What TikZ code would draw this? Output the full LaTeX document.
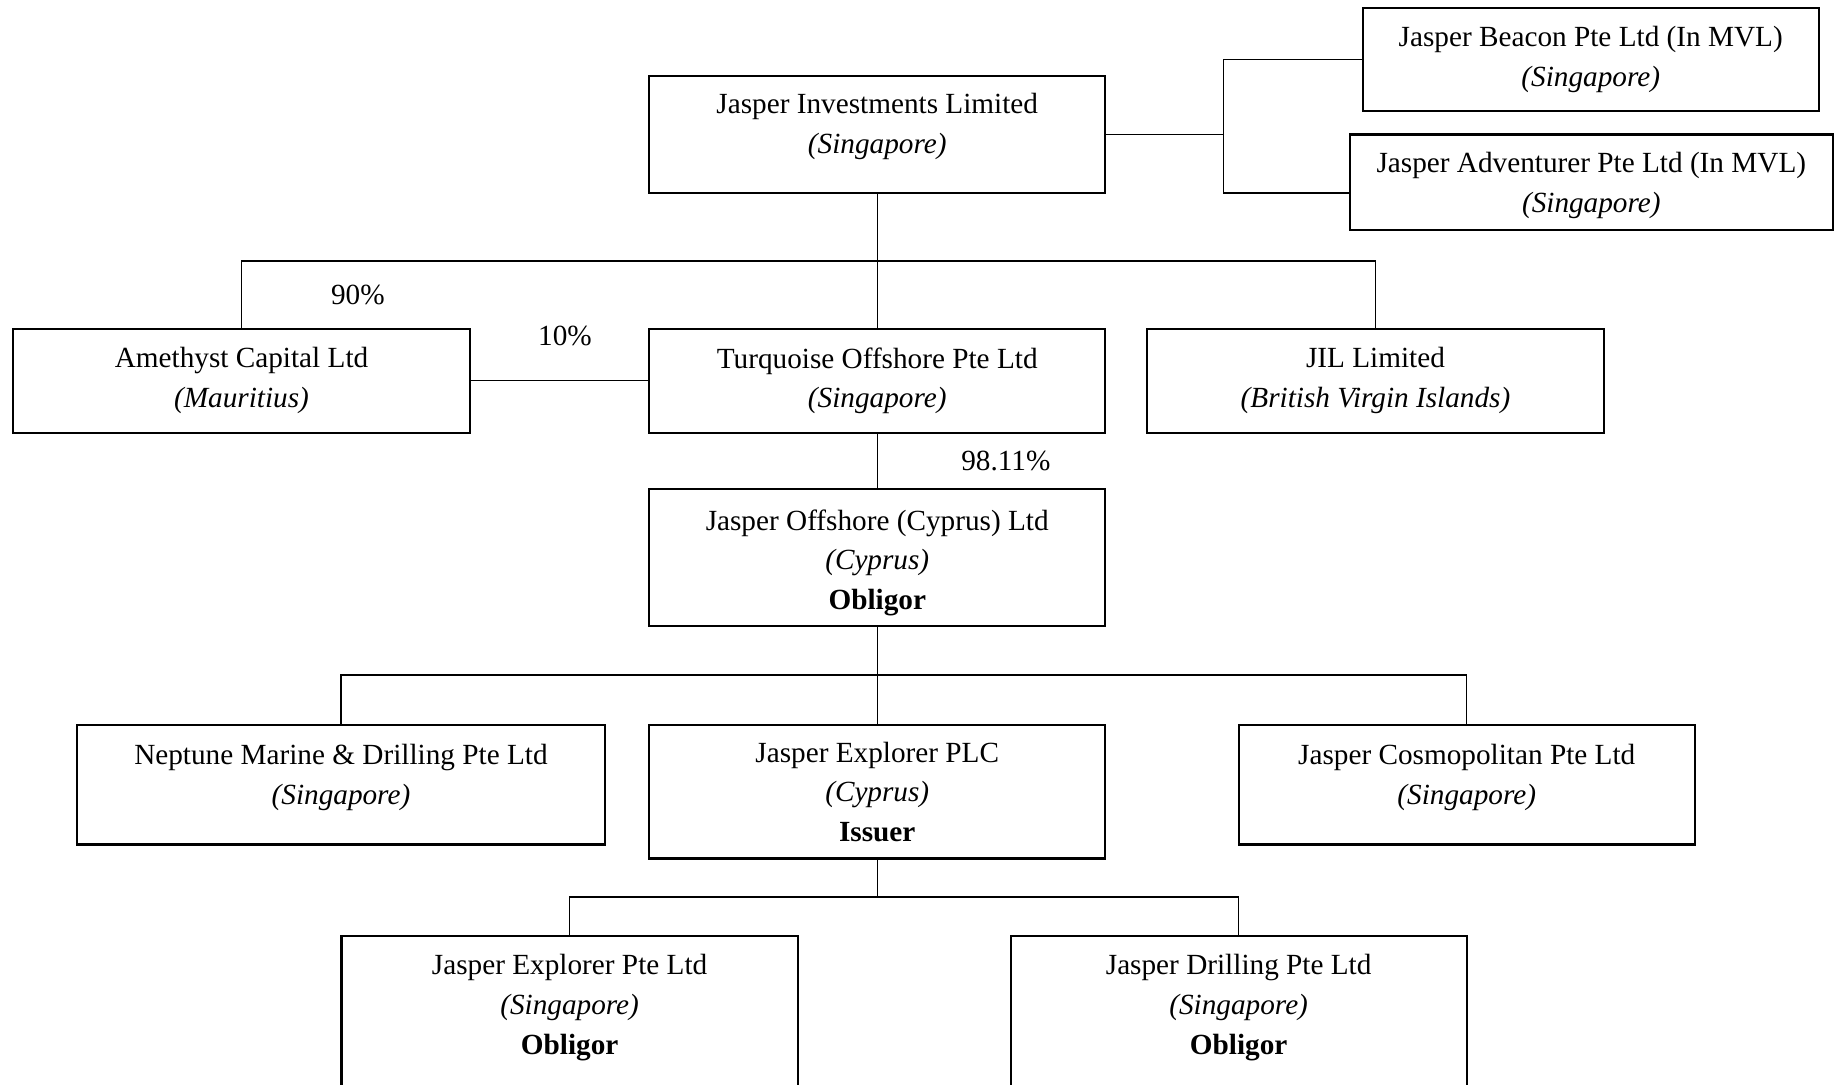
\documentclass[tikz,border=0pt]{standalone}
\usepackage{fontspec}
\setmainfont{Liberation Serif}

\begin{document}
\begin{tikzpicture}[x=0.5pt, y=-0.5pt,
					entity/.style={draw, line width=0.9pt, align=center, inner sep=0pt, font=\fontsize{12.5}{17}\selectfont},
					link/.style={line width=0.6pt},
					share/.style={font=\fontsize{12.5}{17}\selectfont},]
					\useasboundingbox (0,0) rectangle (1568,927);
					\clip (0,0) rectangle (1568,927);

					\node[entity, minimum width=195pt, minimum height=50pt] (inv) at (750,115) {Jasper Investments Limited\\\textit{(Singapore)}\rule[-9.7pt]{0pt}{9.7pt}};
					\node[entity, minimum width=195pt, minimum height=44pt] (beacon) at (1360,51) {Jasper Beacon Pte Ltd (In MVL)\\\textit{(Singapore)}};
					\node[entity, minimum width=206.5pt, minimum height=41pt] (adv) at (1360.5,156) {\rule{0pt}{11.5pt}Jasper Adventurer Pte Ltd (In MVL)\\\textit{(Singapore)}};

					\node[entity, minimum width=195.5pt, minimum height=44.5pt] (amethyst) at (206.5,325.5) {Amethyst Capital Ltd\\\textit{(Mauritius)}};
					\node[entity, minimum width=195pt, minimum height=44.5pt] (turq) at (750,325.5) {Turquoise Offshore Pte Ltd\\\textit{(Singapore)}};
					\node[entity, minimum width=195pt, minimum height=44.5pt] (jil) at (1176,325.5) {JIL Limited\\\textit{(British Virgin Islands)}};

					\node[entity, minimum width=195pt, minimum height=58.5pt] (offshore) at (750,476.5) {\rule{0pt}{13.5pt}Jasper Offshore (Cyprus) Ltd\\\textit{(Cyprus)}\\\textbf{Obligor}};

					\node[entity, minimum width=225.5pt, minimum height=51pt] (neptune) at (291.5,671) {Neptune Marine \& Drilling Pte Ltd\\\textit{(Singapore)}\rule[-8.7pt]{0pt}{8.7pt}};
					\node[entity, minimum width=195pt, minimum height=57pt] (plc) at (750,677) {Jasper Explorer PLC\\\textit{(Cyprus)}\\\textbf{Issuer}};
					\node[entity, minimum width=195pt, minimum height=51pt] (cosmo) at (1254,671) {Jasper Cosmopolitan Pte Ltd\\\textit{(Singapore)}\rule[-8.7pt]{0pt}{8.7pt}};

					\node[entity, minimum width=195pt, inner ysep=8pt, anchor=north] (expl) at (487,799) {Jasper Explorer Pte Ltd\\\textit{(Singapore)}\\\textbf{Obligor}\\\rule{0pt}{40pt}};
					\node[entity, minimum width=195pt, inner ysep=8pt, anchor=north] (drill) at (1059,799) {Jasper Drilling Pte Ltd\\\textit{(Singapore)}\\\textbf{Obligor}\\\rule{0pt}{40pt}};

					\coordinate (fork) at (1046,115);
					\coordinate (advin) at (1154,165);
					\coordinate (bus1) at (750,223);
					\coordinate (bus2) at (750,577);
					\coordinate (bus3) at (750,767);

					\draw[link] (inv) -- (fork);
					\draw[link] (beacon.west) -| (fork) |- (advin);
					\draw[link] (inv) -- (turq);
					\draw[link] (amethyst.north) |- (bus1) -| (jil.north);
					\draw[link] (amethyst) -- (turq);
					\draw[link] (turq) -- (offshore);
					\draw[link] (offshore) -- (plc);
					\draw[link] (neptune.north) |- (bus2) -| (cosmo.north);
					\draw[link] (plc) -- (bus3);
					\draw[link] (expl.north) |- (bus3) -| (drill.north);

					\node[share] (p90) at (306,252) {90\%};
					\node[share] (p10) at (483,287) {10\%};
					\node[share] (p98) at (860,394) {98.11\%};
				\end{tikzpicture}
\end{document}
